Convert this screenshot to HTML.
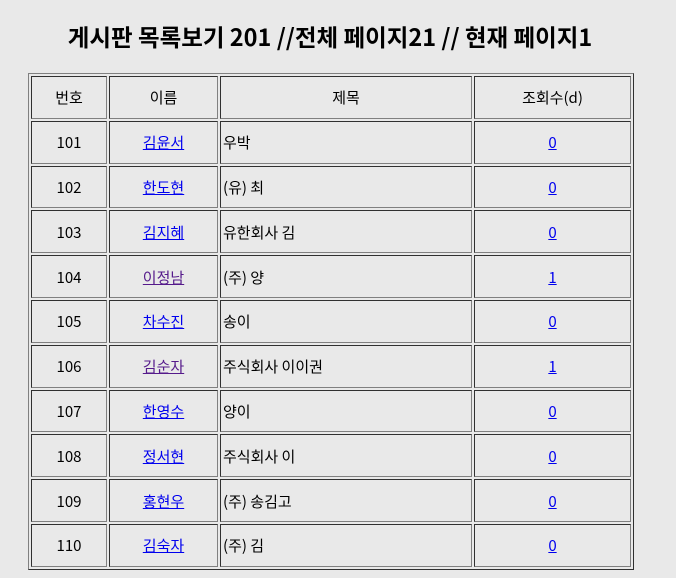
<!DOCTYPE html>
<html><head><meta charset="utf-8"><style>
body{margin:0;background:#e9e9e9;width:676px;height:578px;overflow:hidden;font-family:"Liberation Sans","Noto Sans CJK KR",sans-serif;color:#000}
h1{position:absolute;left:0;width:660px;top:19px;margin:0;text-align:center;font-size:23.5px;font-weight:bold;font-family:"Noto Sans CJK KR","Liberation Sans",sans-serif;white-space:nowrap}
table{position:absolute;left:28px;top:73px;border:1px solid;border-color:#808080 #303030 #303030 #808080;border-spacing:2px;font-size:15px;font-family:"Noto Sans CJK KR",sans-serif}
td{border:1px solid;border-color:#303030 #808080 #808080 #303030;padding:1px 0 0 0;text-align:center;height:42.8px;box-sizing:border-box}
td.t{text-align:left;padding-left:2px}
a{color:#0000ee}a.v{color:#551a8b}
</style></head><body>
<h1>게시판 목록보기 201 //전체 페이지21 // 현재 페이지1</h1>
<table>
<colgroup><col style="width:76px"><col style="width:109px"><col style="width:252px"><col style="width:157px"></colgroup>
<tr><td style="height:42px">번호</td><td>이름</td><td>제목</td><td>조회수(d)</td></tr>
<tr><td>101</td><td><a href="#">김윤서</a></td><td class="t">우박</td><td><a href="#">0</a></td></tr>
<tr><td>102</td><td><a href="#">한도현</a></td><td class="t">(유) 최</td><td><a href="#">0</a></td></tr>
<tr><td>103</td><td><a href="#">김지혜</a></td><td class="t">유한회사 김</td><td><a href="#">0</a></td></tr>
<tr><td>104</td><td><a class="v" href="#">이정남</a></td><td class="t">(주) 양</td><td><a href="#">1</a></td></tr>
<tr><td>105</td><td><a href="#">차수진</a></td><td class="t">송이</td><td><a href="#">0</a></td></tr>
<tr><td>106</td><td><a class="v" href="#">김순자</a></td><td class="t">주식회사 이이권</td><td><a href="#">1</a></td></tr>
<tr><td>107</td><td><a href="#">한영수</a></td><td class="t">양이</td><td><a href="#">0</a></td></tr>
<tr><td>108</td><td><a href="#">정서현</a></td><td class="t">주식회사 이</td><td><a href="#">0</a></td></tr>
<tr><td>109</td><td><a href="#">홍현우</a></td><td class="t">(주) 송김고</td><td><a href="#">0</a></td></tr>
<tr><td>110</td><td><a href="#">김숙자</a></td><td class="t">(주) 김</td><td><a href="#">0</a></td></tr>
</table>
</body></html>
